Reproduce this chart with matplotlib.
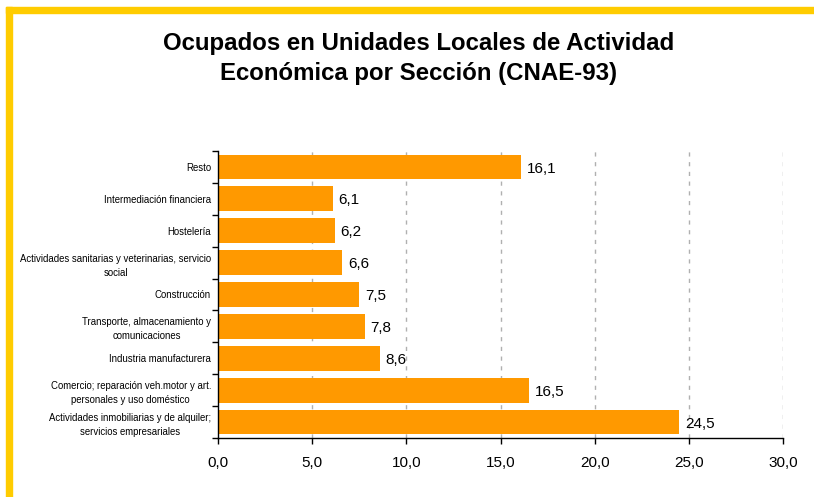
import matplotlib
matplotlib.use("Agg")
import matplotlib.pyplot as plt
from matplotlib.patches import Rectangle
from matplotlib.ticker import FuncFormatter, MultipleLocator, FixedLocator

plt.rcParams["font.family"] = ["Liberation Sans", "DejaVu Sans"]

# Datos (de abajo hacia arriba)
secciones = [
    "Actividades inmobiliarias y de alquiler;\nservicios empresariales",
    "Comercio; reparación veh.motor y art.\npersonales y uso doméstico",
    "Industria manufacturera",
    "Transporte, almacenamiento y\ncomunicaciones",
    "Construcción",
    "Actividades sanitarias y veterinarias, servicio\nsocial",
    "Hostelería",
    "Intermediación financiera",
    "Resto",
]
porcentajes = [24.5, 16.5, 8.6, 7.8, 7.5, 6.6, 6.2, 6.1, 16.1]

titulo = "Ocupados en Unidades Locales de Actividad\nEconómica por Sección (CNAE-93)"

fig = plt.figure(figsize=(8.14, 4.97), dpi=100)

# Marco amarillo (arriba e izquierda)
fig.patches.append(Rectangle((6 / 814, 0), 6 / 814, 1 - 7 / 497,
                             transform=fig.transFigure, color="#FFCC00", zorder=0))
fig.patches.append(Rectangle((6 / 814, 1 - 13 / 497), 1, 6 / 497,
                             transform=fig.transFigure, color="#FFCC00", zorder=0))

ax = fig.add_axes([218 / 814, 1 - 438 / 497, (783 - 218) / 814, (438 - 151) / 497])

pos = list(range(len(secciones)))
ax.barh(pos, porcentajes, height=0.78, color="#FF9900", zorder=2)

for y, v in zip(pos, porcentajes):
    ax.text(v + 0.3, y - 0.05, f"{v:.1f}".replace(".", ","), va="center",
            ha="left", fontsize=11, zorder=3)

ax.set_xlim(0, 30)
ax.set_ylim(-0.5, len(secciones) - 0.5)
ax.xaxis.set_major_locator(MultipleLocator(5))
ax.xaxis.set_major_formatter(FuncFormatter(lambda x, p: f"{x:.1f}".replace(".", ",")))
ax.tick_params(axis="x", labelsize=11, direction="out", length=4, width=1, pad=9)

ax.set_yticks(pos)
ax.set_yticklabels(secciones, fontsize=6.95, multialignment="center", linespacing=1.5)
ax.yaxis.set_minor_locator(FixedLocator([p - 0.5 for p in pos] + [len(secciones) - 0.5]))
ax.tick_params(axis="y", which="major", length=0, pad=5)
ax.tick_params(axis="y", which="minor", length=4, width=1, direction="out")

for x in range(5, 31, 5):
    ax.axvline(x, color="#B0B0B0", linestyle=(0, (3, 4)), linewidth=1, zorder=1)

for s in ["top", "right"]:
    ax.spines[s].set_visible(False)
ax.spines["left"].set_linewidth(1)
ax.spines["bottom"].set_linewidth(1)

fig.text(419 / 814, 1 - 58.5 / 497, titulo, ha="center", va="center",
         fontsize=17.3, fontweight="bold", linespacing=1.42)

plt.savefig("out.png", dpi=100)
plt.close()
